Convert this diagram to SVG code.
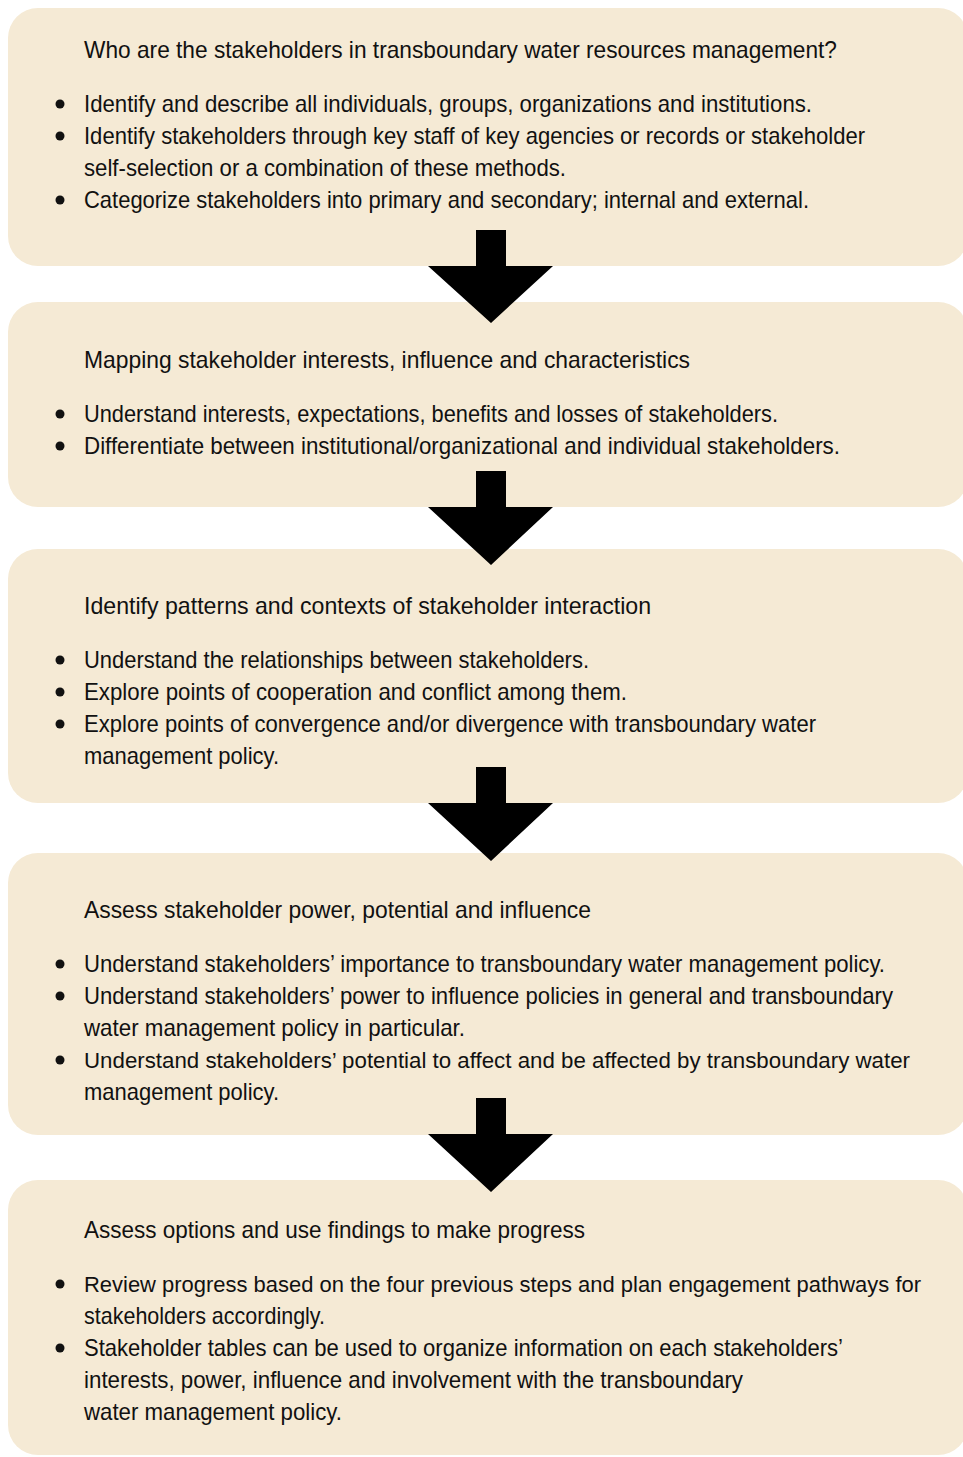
<svg xmlns="http://www.w3.org/2000/svg" width="963" height="1457" viewBox="0 0 963 1457">
<defs>
<style>
.box{fill:#F5EAD5;}
.t{font-family:"Liberation Sans Narrow","Liberation Sans",Arial,sans-serif;font-size:24px;fill:#111;}
.s{font-size:22.5px;}
.b{fill:#111;}
.arrow{fill:#000;}
</style>
</defs>
<rect width="963" height="1457" fill="#fff"/>
<g id="step1">
<rect class="box" x="8" y="8" width="960" height="258" rx="30"/>
<text class="t" x="84" y="58" textLength="753" lengthAdjust="spacingAndGlyphs">Who are the stakeholders in transboundary water resources management?</text>
<circle class="b" cx="60" cy="104" r="4.5"/>
<text class="t" x="84" y="112" textLength="728" lengthAdjust="spacingAndGlyphs">Identify and describe all individuals, groups, organizations and institutions.</text>
<circle class="b" cx="60" cy="136" r="4.5"/>
<text class="t" x="84" y="144" textLength="781" lengthAdjust="spacingAndGlyphs">Identify stakeholders through key staff of key agencies or records or stakeholder</text>
<text class="t" x="84" y="176" textLength="482" lengthAdjust="spacingAndGlyphs">self-selection or a combination of these methods.</text>
<circle class="b" cx="60" cy="200" r="4.5"/>
<text class="t" x="84" y="208" textLength="725" lengthAdjust="spacingAndGlyphs">Categorize stakeholders into primary and secondary; internal and external.</text>
</g>
<g id="step2">
<rect class="box" x="8" y="302" width="960" height="205" rx="30"/>
<text class="t" x="84" y="368" textLength="606" lengthAdjust="spacingAndGlyphs">Mapping stakeholder interests, influence and characteristics</text>
<circle class="b" cx="60" cy="414" r="4.5"/>
<text class="t" x="84" y="422" textLength="694" lengthAdjust="spacingAndGlyphs">Understand interests, expectations, benefits and losses of stakeholders.</text>
<circle class="b" cx="60" cy="446" r="4.5"/>
<text class="t" x="84" y="454" textLength="756" lengthAdjust="spacingAndGlyphs">Differentiate between institutional/organizational and individual stakeholders.</text>
</g>
<g id="step3">
<rect class="box" x="8" y="549" width="960" height="254" rx="30"/>
<text class="t" x="84" y="614" textLength="567" lengthAdjust="spacingAndGlyphs">Identify patterns and contexts of stakeholder interaction</text>
<circle class="b" cx="60" cy="660" r="4.5"/>
<text class="t" x="84" y="668" textLength="505" lengthAdjust="spacingAndGlyphs">Understand the relationships between stakeholders.</text>
<circle class="b" cx="60" cy="692" r="4.5"/>
<text class="t" x="84" y="700" textLength="543" lengthAdjust="spacingAndGlyphs">Explore points of cooperation and conflict among them.</text>
<circle class="b" cx="60" cy="724" r="4.5"/>
<text class="t" x="84" y="732" textLength="732" lengthAdjust="spacingAndGlyphs">Explore points of convergence and/or divergence with transboundary water</text>
<text class="t" x="84" y="764" textLength="195" lengthAdjust="spacingAndGlyphs">management policy.</text>
</g>
<g id="step4">
<rect class="box" x="8" y="853" width="960" height="282" rx="30"/>
<text class="t" x="84" y="918" textLength="507" lengthAdjust="spacingAndGlyphs">Assess stakeholder power, potential and influence</text>
<circle class="b" cx="60" cy="964" r="4.5"/>
<text class="t" x="84" y="972" textLength="801" lengthAdjust="spacingAndGlyphs">Understand stakeholders’ importance to transboundary water management policy.</text>
<circle class="b" cx="60" cy="996" r="4.5"/>
<text class="t" x="84" y="1004" textLength="809" lengthAdjust="spacingAndGlyphs">Understand stakeholders’ power to influence policies in general and transboundary</text>
<text class="t" x="84" y="1036" textLength="381" lengthAdjust="spacingAndGlyphs">water management policy in particular.</text>
<circle class="b" cx="60" cy="1060" r="4.5"/>
<text class="t s" x="84" y="1068" textLength="826" lengthAdjust="spacingAndGlyphs">Understand stakeholders’ potential to affect and be affected by transboundary water</text>
<text class="t" x="84" y="1100" textLength="195" lengthAdjust="spacingAndGlyphs">management policy.</text>
</g>
<g id="step5">
<rect class="box" x="8" y="1180" width="960" height="275" rx="30"/>
<text class="t" x="84" y="1238" textLength="501" lengthAdjust="spacingAndGlyphs">Assess options and use findings to make progress</text>
<circle class="b" cx="60" cy="1284" r="4.5"/>
<text class="t s" x="84" y="1292" textLength="837" lengthAdjust="spacingAndGlyphs">Review progress based on the four previous steps and plan engagement pathways for</text>
<text class="t" x="84" y="1324" textLength="241" lengthAdjust="spacingAndGlyphs">stakeholders accordingly.</text>
<circle class="b" cx="60" cy="1348" r="4.5"/>
<text class="t" x="84" y="1356" textLength="759" lengthAdjust="spacingAndGlyphs">Stakeholder tables can be used to organize information on each stakeholders’</text>
<text class="t" x="84" y="1388" textLength="659" lengthAdjust="spacingAndGlyphs">interests, power, influence and involvement with the transboundary</text>
<text class="t" x="84" y="1420" textLength="258" lengthAdjust="spacingAndGlyphs">water management policy.</text>
</g>
<g id="connectors">
<polygon class="arrow" points="476,230 506,230 506,266 553,266 491,323 428,266 476,266"/>
<polygon class="arrow" points="476,471 506,471 506,507 553,507 491,565 428,507 476,507"/>
<polygon class="arrow" points="476,767 506,767 506,803 553,803 491,861 428,803 476,803"/>
<polygon class="arrow" points="476,1098 506,1098 506,1134 553,1134 491,1192 428,1134 476,1134"/>
</g>
</svg>
